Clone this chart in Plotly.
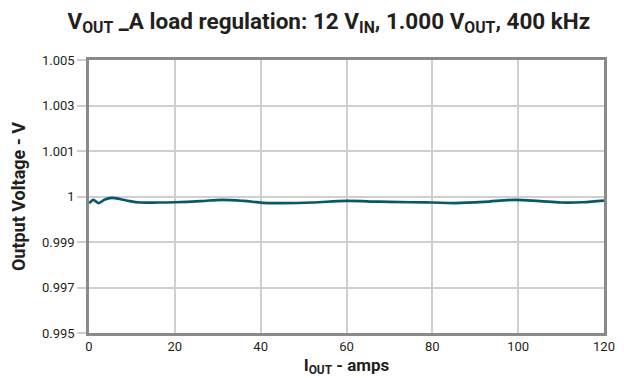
import plotly.graph_objects as go

# Load current (A) and measured output voltage (V)
iout_a = [0, 0.3, 1.0, 2.2, 3.7, 5.3, 7.2, 9.5, 12, 16, 20, 26, 31, 36, 40.5, 45,
          52, 60, 67.5, 75, 80, 85.3, 92, 99.3, 105, 110, 115, 120]
vout_v = [0.99978, 0.99979, 0.99988, 0.99976, 0.99989, 0.99995, 0.99991, 0.99983,
          0.99978, 0.99978, 0.99979, 0.99983, 0.99988, 0.99984, 0.99977, 0.99976,
          0.99978, 0.99984, 0.99981, 0.99979, 0.99978, 0.99976, 0.99980, 0.99988,
          0.99983, 0.99978, 0.99979, 0.99985]

# Y axis: seven evenly spaced ticks with their printed labels
y_min, y_max = 0.995, 1.005
y_ticktext = ["0.995", "0.997", "0.999", "1", "1.001", "1.003", "1.005"]
y_tickvals = [y_min + i * (y_max - y_min) / 6 for i in range(7)]
x_tickvals = [0, 20, 40, 60, 80, 100, 120]

FONT = "Roboto, Liberation Sans, sans-serif"
FRAME = "#8a8a8c"
GRID = "#cfcfd1"
TEXT = "#231f20"

fig = go.Figure()
fig.add_trace(go.Scatter(
    x=iout_a, y=vout_v, mode="lines",
    line=dict(color="#07596a", width=2.7, shape="spline", smoothing=1.0),
    hoverinfo="x+y", showlegend=False,
))

fig.update_layout(
    width=624, height=378,
    margin=dict(l=89, r=20, t=60, b=45, autoexpand=False),
    paper_bgcolor="white", plot_bgcolor="white",
    font=dict(family=FONT, color=TEXT, size=13),
    title=dict(
        text="<b>V<sub>OUT</sub> _A load regulation: 12 V<sub>IN</sub>, 1.000 V<sub>OUT</sub>, 400 kHz</b>",
        x=0.527, xanchor="center", y=0.945, yanchor="middle",
        font=dict(family=FONT, size=22.5, color=TEXT),
    ),
    xaxis=dict(
        range=[0, 120], tickvals=x_tickvals, ticks="", automargin=False,
        showgrid=True, gridcolor=GRID, gridwidth=1.5,
        showline=True, linecolor=FRAME, linewidth=2.5, mirror=True,
        zeroline=False, tickfont=dict(size=13, color=TEXT),
        title=dict(text="<b>I<sub>OUT</sub> - amps</b>", standoff=6,
                   font=dict(family=FONT, size=17, color=TEXT)),
    ),
    yaxis=dict(
        range=[y_min, y_max], tickvals=y_tickvals, ticktext=y_ticktext,
        ticks="outside", ticklen=9, tickcolor=GRID, tickwidth=1.5,
        automargin=False,
        showgrid=True, gridcolor=GRID, gridwidth=1.5,
        showline=True, linecolor=FRAME, linewidth=2.5, mirror=True,
        zeroline=False, tickfont=dict(size=13, color=TEXT),
        title=dict(text="<b>Output Voltage - V</b>", standoff=12,
                   font=dict(family=FONT, size=18, color=TEXT)),
    ),
)

fig.write_html("out.html")
